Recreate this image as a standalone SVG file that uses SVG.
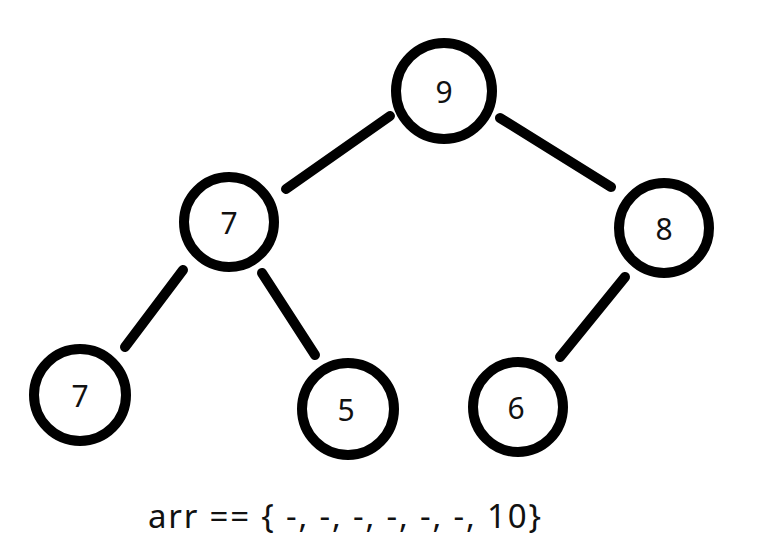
<svg xmlns="http://www.w3.org/2000/svg" width="779" height="545" viewBox="0 0 779 545">
<style>
.n{fill:#fff;stroke:#000;stroke-width:10}
.t{font-family:"Noto Sans","Open Sans",sans-serif;font-size:30px;fill:#111;text-anchor:middle;dominant-baseline:central}
.e{stroke:#000;stroke-width:10;stroke-linecap:round;fill:none}
</style>
<rect width="779" height="545" fill="#fff"/>
<g id="edges">
<line class="e" x1="390" y1="116" x2="286" y2="189"/>
<line class="e" x1="500" y1="118" x2="611" y2="187"/>
<line class="e" x1="183" y1="270" x2="125" y2="347"/>
<line class="e" x1="262" y1="273" x2="315" y2="355"/>
<line class="e" x1="625" y1="277" x2="560" y2="357"/>
</g>
<g id="n9"><circle class="n" cx="444" cy="91" r="48"/><text class="t" x="444" y="91">9</text></g>
<g id="n7a"><circle class="n" cx="229" cy="222" r="45"/><text class="t" x="229" y="222">7</text></g>
<g id="n8"><circle class="n" cx="664" cy="228" r="45"/><text class="t" x="664" y="228">8</text></g>
<g id="n7b"><circle class="n" cx="80" cy="395" r="46"/><text class="t" x="80" y="395">7</text></g>
<g id="n5"><circle class="n" cx="348" cy="409" r="46"/><text class="t" x="346" y="409">5</text></g>
<g id="n6"><circle class="n" cx="518" cy="407" r="45"/><text class="t" x="516" y="407">6</text></g>
<text x="148" y="528" font-family="Noto Sans,Open Sans,sans-serif" font-size="33" fill="#111" textLength="393" lengthAdjust="spacing">arr == { -, -, -, -, -, -, 10}</text>
</svg>
